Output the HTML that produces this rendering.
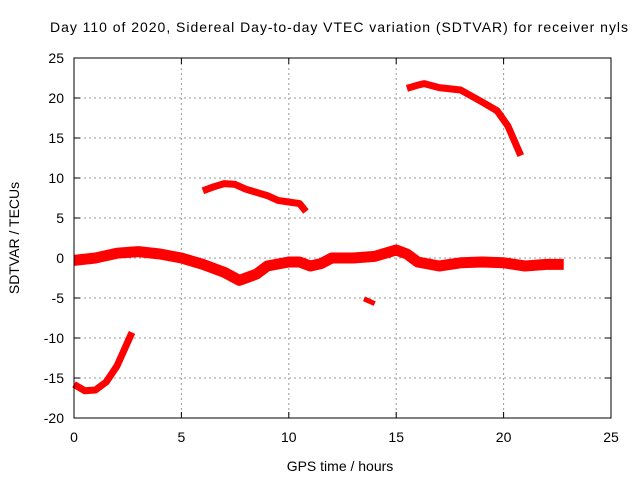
<!DOCTYPE html>
<html><head><meta charset="utf-8"><style>
body{margin:0;background:#fff}
svg{display:block;font-family:"Liberation Sans",sans-serif}
</style></head><body>
<svg id="chart" width="640" height="480">
<rect width="640" height="480" fill="#fff"/>
<text x="339" y="32" font-size="14" text-anchor="middle" textLength="578" lengthAdjust="spacing">Day 110 of 2020, Sidereal Day-to-day VTEC variation (SDTVAR) for receiver nyls</text>
<g id="grid"></g>
<g id="series"></g>
<rect x="74" y="58" width="537" height="360" fill="none" stroke="#000"/>
<text x="340" y="471" font-size="14" text-anchor="middle">GPS time / hours</text>
<text transform="translate(19,238) rotate(-90)" font-size="14" text-anchor="middle">SDTVAR / TECUs</text>
</svg>
<script>
const xTicks=[0,5,10,15,20,25];
const yTicks=[25,20,15,10,5,0,-5,-10,-15,-20];
const segMainT=[0,1,2,3,4,5,6,7,7.7,8.5,9,10,10.5,11,11.5,12,13,14,15,15.5,16,17,18,19,20,21,22,22.8];
const segMainV=[-0.3,0,0.6,0.8,0.5,0,-0.8,-1.8,-2.8,-2,-1,-0.5,-0.5,-1,-0.7,0,0,0.2,1,0.5,-0.5,-1,-0.6,-0.5,-0.6,-1,-0.8,-0.8];
const segLowT=[0,0.5,1,1.5,2,2.7];
const segLowV=[-15.8,-16.6,-16.5,-15.5,-13.5,-9.3];
const segMidT=[6,6.5,7,7.5,8,9,9.5,10,10.5,10.8];
const segMidV=[8.4,8.9,9.3,9.2,8.6,7.8,7.2,7,6.8,5.8];
const segSmallT=[13.5,14];
const segSmallV=[-5.1,-5.7];
const segHighT=[15.5,16,16.3,17,18,19,19.7,20.2,20.8];
const segHighV=[21.2,21.6,21.8,21.3,21,19.5,18.4,16.5,12.8];
const X=t=>74+t*(537/25);
const Y=v=>258-v*8;
const NS="http://www.w3.org/2000/svg";
const grid=document.getElementById('grid');
function mk(tag,attrs,parent){const e=document.createElementNS(NS,tag);for(const k in attrs)e.setAttribute(k,attrs[k]);parent.appendChild(e);return e;}
xTicks.forEach(t=>{
 const x=X(t);
 if(t>0&&t<25){const l=mk('line',{x1:x,x2:x,y1:58,y2:418,stroke:'#999','stroke-dasharray':'2,3'},grid);
 
 }
 mk('line',{x1:x,x2:x,y1:418,y2:412,stroke:'#000'},grid);
 mk('line',{x1:x,x2:x,y1:58,y2:64,stroke:'#000'},grid);
 const tx=mk('text',{x:x,y:442,'font-size':14,'text-anchor':'middle'},grid);tx.textContent=t;
 
 
});
yTicks.forEach(v=>{
 const y=Y(v);
 if(v<25&&v>-20){const l=mk('line',{x1:74,x2:611,y1:y,y2:y,stroke:'#999','stroke-dasharray':'2,3'},grid);
 
 }
 mk('line',{x1:74,x2:80,y1:y,y2:y,stroke:'#000'},grid);
 mk('line',{x1:611,x2:605,y1:y,y2:y,stroke:'#000'},grid);
 const tx=mk('text',{x:64,y:y+5,'font-size':14,'text-anchor':'end'},grid);tx.textContent=v;
 
 
});
const series=document.getElementById('series');
function drawSeg(T,V,name,w){
 const pts=T.map((t,i)=>X(t)+','+Y(V[i])).join(' ');
 const p=mk('polyline',{points:pts,fill:'none',stroke:'#f00','stroke-width':w,'stroke-linejoin':'round','stroke-linecap':'butt'},series);
 
 
}
drawSeg(segMainT,segMainV,'series-main-band',11);
drawSeg(segLowT,segLowV,'series-early-low',7);
drawSeg(segMidT,segMidV,'series-mid-arc',7);
drawSeg(segSmallT,segSmallV,'series-small-dip',5);
drawSeg(segHighT,segHighV,'series-high-arc',7);
</script>
</body></html>
